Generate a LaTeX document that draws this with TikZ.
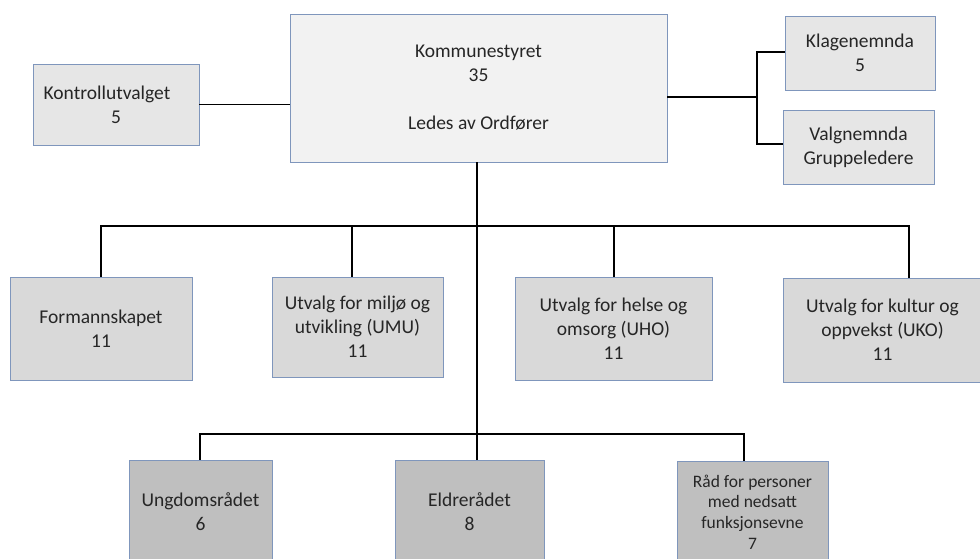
\documentclass[tikz,border=0pt]{standalone}
\usepackage{fontspec}
\setmainfont{Carlito}
\definecolor{bordc}{HTML}{7F96BC}
\definecolor{fillA}{HTML}{F2F2F2}
\definecolor{fillB}{HTML}{E6E6E6}
\definecolor{fillC}{HTML}{D9D9D9}
\definecolor{fillD}{HTML}{BFBFBF}
\begin{document}
\begin{tikzpicture}[x=1pt,y=-1pt,
  box/.style={draw=bordc,line width=0.9pt,align=center,inner sep=0pt,
    font=\fontsize{19.5}{24}\selectfont,text=black!85},
  conn/.style={draw=black,line width=1.4pt}]
\useasboundingbox (0,0) rectangle (980,558);
\node[box,fill=fillA,minimum width=377pt,minimum height=148pt] (K) at (478.5,88) {Kommunestyret\\35\\[24pt]Ledes av Ordfører};
\node[box,fill=fillB,minimum width=166pt,minimum height=81pt] (KU) at (116,104.5) {Kontrollutvalget\hspace*{18pt}\\5};
\node[box,fill=fillB,minimum width=150pt,minimum height=74pt] (KL) at (860,53) {Klagenemnda\\5};
\node[box,fill=fillB,minimum width=151pt,minimum height=74pt] (VA) at (858.5,147) {Valgnemnda\\Gruppeledere};
\node[box,fill=fillC,minimum width=182pt,minimum height=103pt] (F) at (101,328.5) {Formannskapet\\11};
\node[box,fill=fillC,minimum width=171pt,minimum height=100pt] (UMU) at (357.5,327) {Utvalg for miljø og\\utvikling (UMU)\\11};
\node[box,fill=fillC,minimum width=197pt,minimum height=103pt] (UHO) at (613.5,328.5) {Utvalg for helse og\\omsorg (UHO)\\11};
\node[box,fill=fillC,minimum width=199pt,minimum height=104pt] (UKO) at (882.5,330) {Utvalg for kultur og\\oppvekst (UKO)\\11};
\node[box,fill=fillD,minimum width=143pt,minimum height=104pt] (UNG) at (200.5,512) {Ungdomsrådet\\6};
\node[box,fill=fillD,minimum width=149pt,minimum height=104pt] (ELD) at (469.5,512) {Eldrerådet\\8};
\node[box,fill=fillD,minimum width=151pt,minimum height=102pt,font=\fontsize{17.5}{20.7}\selectfont] (RAD) at (752.5,512) {Råd for personer\\med nedsatt\\funksjonsevne\\7};
% connector points
\coordinate (kr) at (667,97);
\coordinate (rj) at (757,97);
\coordinate (klj) at (757,52);
\coordinate (vaj) at (757,144);
\coordinate (ks) at (477,162);
\coordinate (bus4) at (909,226);
\coordinate (lb1) at (200,434);
\coordinate (lb3) at (744,434);
% left
\draw[conn] (KU.east) -- (KU.east -| K.west);
% right
\draw[conn] (kr) -- (rj);
\draw[conn] (klj -| KL.west) -- (klj) -- (vaj) -- (vaj -| VA.west);
% spine
\draw[conn] (ks) -- (ks |- ELD.north);
% upper bus
\draw[conn] (F.north) |- (bus4) -- (bus4 |- UKO.north);
\draw[conn] (UMU.north -| 352,0) -- (352,226);
\draw[conn] (UHO.north -| 614,0) -- (614,226);
% lower bus
\draw[conn] (lb1 |- UNG.north) -- (lb1) -- (lb3) -- (lb3 |- RAD.north);
\end{tikzpicture}
\end{document}
